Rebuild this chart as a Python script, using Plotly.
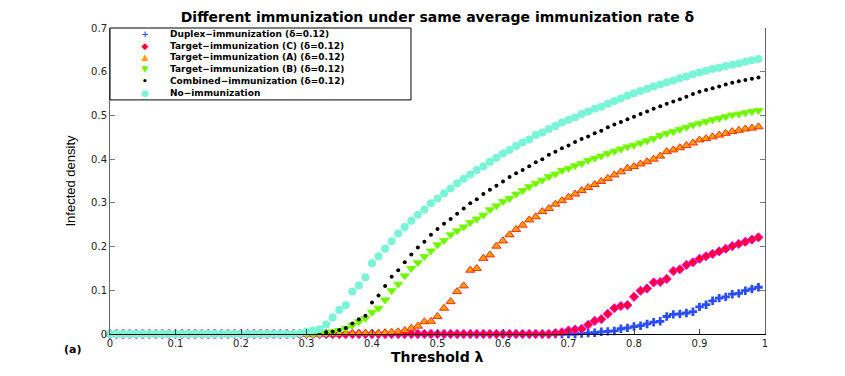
import numpy as np
import plotly.graph_objects as go

# threshold grid (x axis)
threshold = np.round(np.arange(0, 1, 0.01), 2)

# infected density, one value per threshold step
duplex = [0, 0, 0, 0, 0, 0, 0, 0, 0, 0,
          0, 0, 0, 0, 0, 0, 0, 0, 0, 0,
          0, 0, 0, 0, 0, 0, 0, 0, 0, 0,
          0, 0, 0, 0, 0, 0, 0, 0, 0, 0,
          0, 0, 0, 0, 0, 0, 0, 0, 0, 0,
          0, 0, 0, 0, 0, 0, 0, 0, 0, 0,
          0, 0, 0, 0, 0, 0, 0, 0, 0, 0,
          0, 0, 0.001, 0.002, 0.003, 0.005, 0.006, 0.007, 0.012, 0.014,
          0.017, 0.019, 0.023, 0.027, 0.029, 0.040, 0.045, 0.046, 0.048, 0.051,
          0.062, 0.067, 0.076, 0.082, 0.085, 0.091, 0.093, 0.099, 0.103, 0.107]

target_c = [0, 0, 0, 0, 0, 0, 0, 0, 0, 0,
            0, 0, 0, 0, 0, 0, 0, 0, 0, 0,
            0, 0, 0, 0, 0, 0, 0, 0, 0, 0,
            0, 0, 0, 0, 0, 0, 0, 0, 0, 0,
            0, 0, 0, 0, 0, 0, 0, 0, 0, 0,
            0, 0, 0, 0, 0, 0, 0, 0, 0, 0,
            0, 0, 0, 0, 0, 0, 0, 0, 0.002, 0.004,
            0.008, 0.010, 0.012, 0.021, 0.030, 0.034, 0.046, 0.059, 0.064, 0.066,
            0.085, 0.099, 0.104, 0.118, 0.119, 0.126, 0.144, 0.148, 0.158, 0.164,
            0.172, 0.178, 0.183, 0.189, 0.195, 0.201, 0.206, 0.211, 0.216, 0.221]

target_a = [0, 0, 0, 0, 0, 0, 0, 0, 0, 0,
            0, 0, 0, 0, 0, 0, 0, 0, 0, 0,
            0, 0, 0, 0, 0, 0, 0, 0, 0, 0,
            0, 0, 0, 0, 0, 0, 0.001, 0.001, 0.001, 0.002,
            0.002, 0.002, 0.003, 0.004, 0.005, 0.008, 0.013, 0.018, 0.028, 0.029,
            0.040, 0.059, 0.074, 0.097, 0.110, 0.146, 0.150, 0.173, 0.181, 0.201,
            0.213, 0.227, 0.239, 0.249, 0.261, 0.268, 0.280, 0.287, 0.297, 0.305,
            0.313, 0.320, 0.328, 0.335, 0.342, 0.349, 0.356, 0.364, 0.371, 0.379,
            0.383, 0.389, 0.394, 0.400, 0.407, 0.417, 0.421, 0.426, 0.431, 0.437,
            0.444, 0.447, 0.451, 0.455, 0.459, 0.463, 0.466, 0.469, 0.471, 0.474]

target_b = [0, 0, 0, 0, 0, 0, 0, 0, 0, 0,
            0, 0, 0, 0, 0, 0, 0, 0, 0, 0,
            0, 0, 0, 0, 0, 0, 0, 0, 0, 0,
            0, 0, 0.001, 0.003, 0.005, 0.008, 0.013, 0.020, 0.028, 0.036,
            0.050, 0.059, 0.078, 0.099, 0.114, 0.133, 0.150, 0.163, 0.177, 0.190,
            0.204, 0.214, 0.227, 0.236, 0.245, 0.255, 0.263, 0.272, 0.284, 0.293,
            0.303, 0.310, 0.320, 0.328, 0.337, 0.345, 0.352, 0.360, 0.366, 0.374,
            0.379, 0.385, 0.390, 0.397, 0.402, 0.407, 0.413, 0.418, 0.423, 0.428,
            0.432, 0.437, 0.442, 0.447, 0.454, 0.459, 0.463, 0.468, 0.473, 0.478,
            0.482, 0.486, 0.490, 0.493, 0.497, 0.501, 0.503, 0.506, 0.509, 0.511]

combined = [0, 0, 0, 0, 0, 0, 0, 0, 0, 0,
            0, 0, 0, 0, 0, 0, 0, 0, 0, 0,
            0, 0, 0, 0, 0, 0, 0, 0, 0, 0,
            0.001, 0.002, 0.003, 0.004, 0.005, 0.009, 0.014, 0.024, 0.034, 0.042,
            0.072, 0.088, 0.110, 0.131, 0.146, 0.164, 0.182, 0.198, 0.211, 0.227,
            0.240, 0.252, 0.263, 0.275, 0.287, 0.299, 0.308, 0.320, 0.330, 0.339,
            0.349, 0.359, 0.368, 0.375, 0.384, 0.393, 0.400, 0.410, 0.417, 0.425,
            0.431, 0.439, 0.446, 0.452, 0.459, 0.465, 0.473, 0.479, 0.485, 0.491,
            0.497, 0.503, 0.509, 0.515, 0.521, 0.527, 0.532, 0.537, 0.543, 0.549,
            0.554, 0.558, 0.562, 0.566, 0.571, 0.575, 0.578, 0.581, 0.584, 0.587]

no_immunization = [0, 0, 0, 0, 0, 0, 0, 0, 0, 0,
                   0, 0, 0, 0, 0, 0, 0, 0, 0, 0,
                   0, 0, 0, 0, 0, 0, 0, 0, 0, 0.002,
                   0.005, 0.008, 0.011, 0.022, 0.038, 0.055, 0.066, 0.097, 0.111, 0.130,
                   0.162, 0.178, 0.195, 0.212, 0.230, 0.245, 0.259, 0.273, 0.285, 0.299,
                   0.310, 0.322, 0.333, 0.345, 0.355, 0.365, 0.375, 0.384, 0.394, 0.403,
                   0.413, 0.421, 0.430, 0.438, 0.445, 0.455, 0.461, 0.469, 0.476, 0.484,
                   0.490, 0.496, 0.503, 0.509, 0.515, 0.520, 0.527, 0.533, 0.539, 0.545,
                   0.551, 0.556, 0.561, 0.566, 0.571, 0.576, 0.580, 0.585, 0.589, 0.594,
                   0.598, 0.602, 0.606, 0.609, 0.613, 0.616, 0.619, 0.623, 0.626, 0.629]

series_names = ["Duplex\u2212immunization (\u03b4=0.12)",
                "Target\u2212immunization (C) (\u03b4=0.12)",
                "Target\u2212immunization (A) (\u03b4=0.12)",
                "Target\u2212immunization (B) (\u03b4=0.12)",
                "Combined\u2212immunization (\u03b4=0.12)",
                "No\u2212immunization"]

x_ticks = [0, 0.1, 0.2, 0.3, 0.4, 0.5, 0.6, 0.7, 0.8, 0.9, 1]
x_tick_text = ["0", "0.1", "0.2", "0.3", "0.4", "0.5", "0.6", "0.7", "0.8", "0.9", "1"]
y_ticks = [0, 0.1, 0.2, 0.3, 0.4, 0.5, 0.6, 0.7]
y_tick_text = ["0", "0.1", "0.2", "0.3", "0.4", "0.5", "0.6", "0.7"]

styles = [
    dict(symbol="cross", size=7, color="#2a4cf5", line=dict(width=0)),
    dict(symbol="diamond", size=7, color="#ff0030", line=dict(color="#ff00ff", width=1)),
    dict(symbol="triangle-up", size=8, color="#ffa000", line=dict(color="#ff2a10", width=1)),
    dict(symbol="triangle-down", size=8, color="#6cf500", line=dict(color="#7cff10", width=1)),
    dict(symbol="circle", size=4, color="#000000", line=dict(width=0)),
    dict(symbol="circle", size=8, color="#78f5d6", line=dict(width=0)),
]
glyphs = [("+", "#2a4cf5"), ("\u25c6", "#ff0030"), ("\u25b2", "#ffa000"),
          ("\u25bc", "#6cf500"), ("\u2022", "#000000"), ("\u25cf", "#78f5d6")]

fig = go.Figure()
for name, vals, mk in zip(series_names,
                          [duplex, target_c, target_a, target_b, combined, no_immunization],
                          styles):
    fig.add_trace(go.Scatter(x=threshold, y=vals, mode="markers", name=name,
                             marker=mk, showlegend=False, cliponaxis=False))

# legend box drawn by hand (plotly legend rows are too tall)
leg_bottom = 0.765
fig.add_shape(type="rect", xref="paper", yref="paper", x0=0, x1=0.4595, y0=leg_bottom, y1=1,
              line=dict(color="black", width=1), fillcolor="white", layer="above")
leg_mid = (1 + leg_bottom) / 2
glyph_text = "<br>".join('<span style="color:%s">%s</span>' % (c, g) for g, c in glyphs)
fig.add_annotation(x=0.0534, y=leg_mid, xref="paper", yref="paper", text="<b>" + glyph_text + "</b>",
                   showarrow=False, font=dict(family="DejaVu Sans", size=9, color="black"),
                   xanchor="center", yanchor="middle")
fig.add_annotation(x=0.089, y=leg_mid, xref="paper", yref="paper",
                   text="<b>" + "<br>".join(series_names) + "</b>", align="left",
                   showarrow=False, font=dict(family="DejaVu Sans", size=9, color="black"),
                   xanchor="left", yanchor="middle")

# x-axis title and panel label
fig.add_annotation(x=0.5, y=-0.045, xref="paper", yref="paper", text="<b>Threshold \u03bb</b>",
                   showarrow=False, font=dict(family="DejaVu Sans", size=14, color="black"),
                   xanchor="center", yanchor="top", borderpad=0)
fig.add_annotation(x=-0.058, y=-0.05, xref="paper", yref="paper", text="<b>(a)</b>",
                   showarrow=False, font=dict(family="DejaVu Sans", size=11, color="black"),
                   xanchor="center", yanchor="middle")

# page body has an 8px margin, so the figure is made 8px smaller and shifted
fig.update_layout(
    width=837, height=368,
    margin=dict(l=102, r=80, t=20, b=42),
    paper_bgcolor="white", plot_bgcolor="white",
    title=dict(text="<b>Different immunization under same average immunization rate \u03b4</b>",
               x=0.5, xref="paper", y=0.975, yref="container", yanchor="middle",
               font=dict(family="DejaVu Sans", size=14, color="black")),
    xaxis=dict(range=[0, 1], tickvals=x_ticks, ticktext=x_tick_text, ticks="inside",
               ticklen=5, tickcolor="#444", showline=True, linecolor="black", linewidth=1,
               showgrid=False, zeroline=False,
               tickfont=dict(family="DejaVu Sans", size=10, color="#222")),
    yaxis=dict(range=[0, 0.7], tickvals=y_ticks, ticktext=y_tick_text, ticks="inside",
               ticklen=5, tickcolor="#777", showline=True, mirror="ticks", linecolor="#666",
               linewidth=1, showgrid=False, zeroline=False,
               tickfont=dict(family="DejaVu Sans", size=10, color="#222"),
               title=dict(text="Infected density", standoff=12,
                          font=dict(family="Liberation Sans Narrow, Liberation Sans", size=13,
                                    color="black"))),
)

fig.write_html("out.html")
